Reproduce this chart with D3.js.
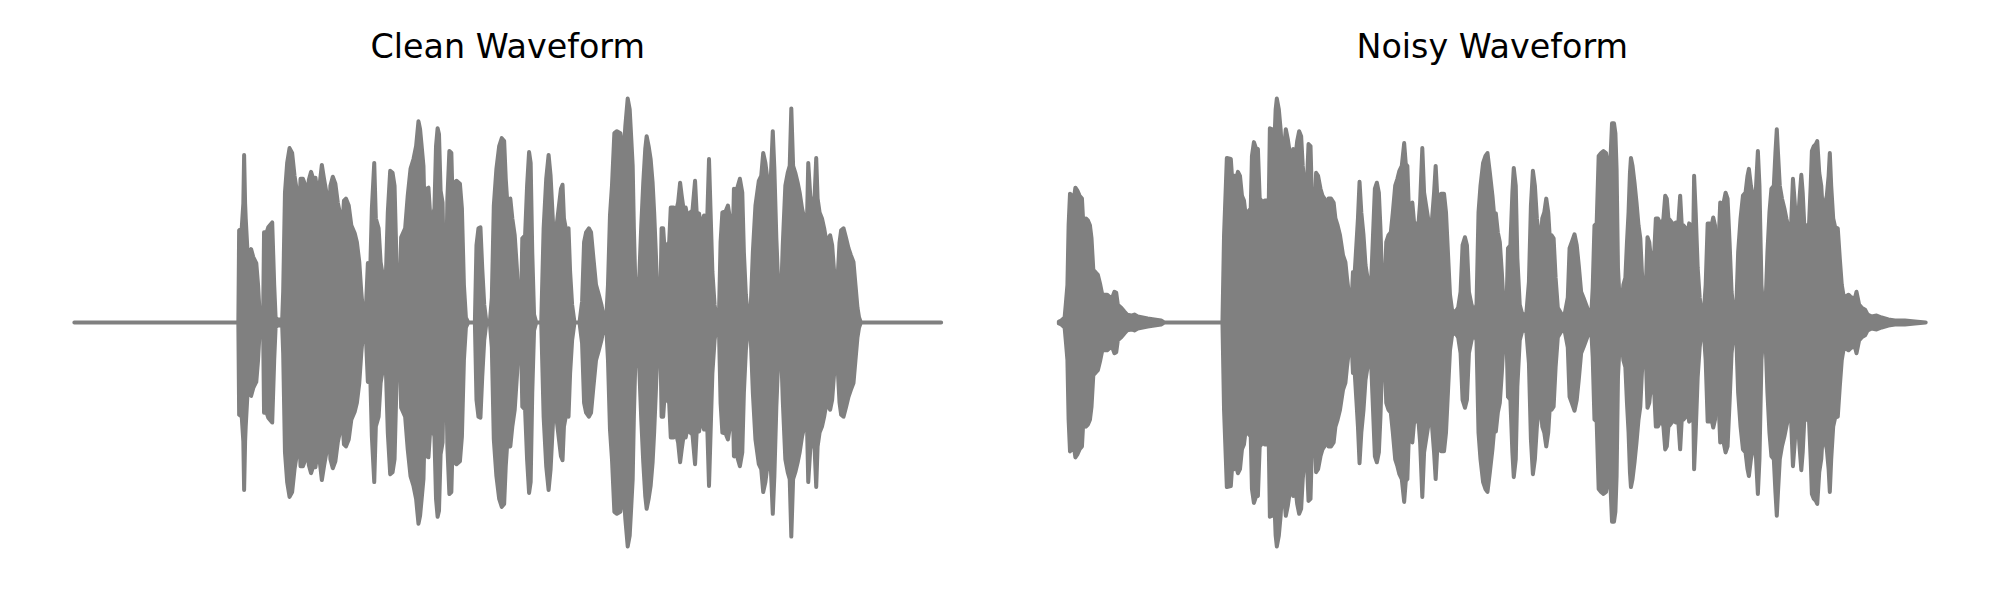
<!DOCTYPE html>
<html><head><meta charset="utf-8">
<script src="https://cdn.jsdelivr.net/npm/d3@7"></script>
<style>html,body{margin:0;padding:0;background:#fff;} svg{display:block}</style>
</head><body><svg id="chart" width="2000" height="600"></svg>
<script>
// ---- data ----
const titles = ["Clean Waveform", "Noisy Waveform"];
const durationMs = 4350;
// peak envelope of each waveform: [time (ms), peak amplitude (arb. units)]; waveform is symmetric about 0
const cleanEnvelope = [[0,0],[823,0],[827,93],[840,95],[848,120],[852,169],[857,120],[860,105],[870,68],[887,74],[898,66],[913,60],[922,38],[930,8],[940,0],[947,0],[952,91],[965,91],[973,96],[993,101],[1003,38],[1010,5],[1020,3],[1043,3],[1048,31],[1057,131],[1068,161],[1080,176],[1093,171],[1105,148],[1118,131],[1127,101],[1135,145],[1147,145],[1160,138],[1170,128],[1177,144],[1188,152],[1202,143],[1210,146],[1220,131],[1232,141],[1242,159],[1253,145],[1265,131],[1273,78],[1285,138],[1297,147],[1310,140],[1322,121],[1335,108],[1343,91],[1353,123],[1363,125],[1377,118],[1390,98],[1407,90],[1418,81],[1430,61],[1440,31],[1450,8],[1460,0],[1473,60],[1483,38],[1493,115],[1505,161],[1513,105],[1527,95],[1537,61],[1550,45],[1562,38],[1573,111],[1585,153],[1597,151],[1607,138],[1615,75],[1623,8],[1630,0],[1640,86],[1660,95],[1673,128],[1687,155],[1702,165],[1715,178],[1727,203],[1735,195],[1743,178],[1752,158],[1760,91],[1767,135],[1777,136],[1785,111],[1797,105],[1807,115],[1815,178],[1823,196],[1830,190],[1838,133],[1848,121],[1855,45],[1865,38],[1872,125],[1882,173],[1892,171],[1898,125],[1908,141],[1918,143],[1935,140],[1945,115],[1955,38],[1965,5],[1977,0],[2010,0],[2018,78],[2028,95],[2038,96],[2047,55],[2057,18],[2068,0],[2085,0],[2095,25],[2105,118],[2118,155],[2132,178],[2145,186],[2157,183],[2165,145],[2177,108],[2188,125],[2198,105],[2210,88],[2222,51],[2232,8],[2240,0],[2248,85],[2262,88],[2272,138],[2282,172],[2290,161],[2298,71],[2307,8],[2318,0],[2343,0],[2355,95],[2368,145],[2380,169],[2390,148],[2402,101],[2412,81],[2422,101],[2432,118],[2442,135],[2450,139],[2457,105],[2468,93],[2480,95],[2488,51],[2498,18],[2510,0],[2535,0],[2548,21],[2558,81],[2568,91],[2582,95],[2593,91],[2605,65],[2618,38],[2632,28],[2645,18],[2657,5],[2668,0],[2678,38],[2688,108],[2698,138],[2710,191],[2723,193],[2740,191],[2748,178],[2757,173],[2765,198],[2777,226],[2787,215],[2795,185],[2802,158],[2808,95],[2818,18],[2825,38],[2835,46],[2845,98],[2855,141],[2865,175],[2872,188],[2882,178],[2892,165],[2902,141],[2910,110],[2918,71],[2927,25],[2933,3],[2940,8],[2947,95],[2955,95],[2963,71],[2973,78],[2985,81],[2993,116],[3007,116],[3018,111],[3030,121],[3040,141],[3048,128],[3057,115],[3068,116],[3077,106],[3090,111],[3102,113],[3115,143],[3123,111],[3135,110],[3147,95],[3160,108],[3168,78],[3177,111],[3185,165],[3193,111],[3202,51],[3213,18],[3223,3],[3235,8],[3243,81],[3252,111],[3268,112],[3280,118],[3290,105],[3300,41],[3310,135],[3320,131],[3330,138],[3340,145],[3352,131],[3360,71],[3370,28],[3382,3],[3393,8],[3405,71],[3418,118],[3435,143],[3447,148],[3457,171],[3468,161],[3478,145],[3488,108],[3497,155],[3505,193],[3513,155],[3523,85],[3535,25],[3543,3],[3555,78],[3568,138],[3580,151],[3590,158],[3598,216],[3607,158],[3618,151],[3630,141],[3640,131],[3652,115],[3663,105],[3672,51],[3678,115],[3683,161],[3690,138],[3698,111],[3707,118],[3715,128],[3723,166],[3730,125],[3740,111],[3752,105],[3763,95],[3773,83],[3785,85],[3793,88],[3803,78],[3813,51],[3823,31],[3832,51],[3840,81],[3848,93],[3860,95],[3873,85],[3885,75],[3897,68],[3910,61],[3920,38],[3930,15],[3938,5],[3947,0],[4350,0]];
const noisyEnvelope = [[0,1],[12,2],[29,5],[36,21],[43,38],[49,98],[56,130],[66,128],[74,123],[83,136],[93,133],[104,128],[116,125],[124,95],[129,88],[136,105],[146,103],[156,98],[164,85],[173,53],[183,51],[196,48],[208,38],[218,28],[229,28],[243,28],[254,26],[268,25],[279,31],[288,30],[296,18],[313,15],[329,11],[343,8],[363,7],[379,8],[396,6],[421,5],[446,4],[479,3],[513,2],[529,0],[821,0],[829,88],[838,138],[843,166],[863,165],[871,141],[879,148],[889,145],[899,152],[909,148],[919,128],[929,123],[938,108],[954,113],[963,115],[969,168],[979,182],[989,176],[999,175],[1008,125],[1016,123],[1024,111],[1033,123],[1043,123],[1053,115],[1059,196],[1071,195],[1079,168],[1088,215],[1094,226],[1104,215],[1113,195],[1123,161],[1129,173],[1139,195],[1149,185],[1159,171],[1166,150],[1176,175],[1186,165],[1196,183],[1206,193],[1216,188],[1224,158],[1233,136],[1243,131],[1253,180],[1263,178],[1273,105],[1283,95],[1291,151],[1301,148],[1313,135],[1323,128],[1333,125],[1343,98],[1353,125],[1366,125],[1379,121],[1388,105],[1399,98],[1411,88],[1426,68],[1438,61],[1446,45],[1458,25],[1468,16],[1476,51],[1484,48],[1493,78],[1501,105],[1509,142],[1518,111],[1529,88],[1539,58],[1549,45],[1559,31],[1568,45],[1576,85],[1586,135],[1596,141],[1606,131],[1614,95],[1623,38],[1633,16],[1643,81],[1654,88],[1666,91],[1676,111],[1688,138],[1699,145],[1709,153],[1721,158],[1733,181],[1741,160],[1749,158],[1758,105],[1766,85],[1774,121],[1783,100],[1793,100],[1803,95],[1813,121],[1824,176],[1833,131],[1843,118],[1853,105],[1863,45],[1873,105],[1883,131],[1891,158],[1899,128],[1908,113],[1918,130],[1933,130],[1943,111],[1954,65],[1963,28],[1973,13],[1988,10],[2004,15],[2016,31],[2026,78],[2038,86],[2048,78],[2058,31],[2071,18],[2083,10],[2096,18],[2106,111],[2116,138],[2129,161],[2141,168],[2151,171],[2163,151],[2176,128],[2186,105],[2193,110],[2203,91],[2213,81],[2223,51],[2233,15],[2246,11],[2254,75],[2266,78],[2276,131],[2283,156],[2293,138],[2301,65],[2313,18],[2326,8],[2346,9],[2359,41],[2369,118],[2379,153],[2389,138],[2399,105],[2409,88],[2418,81],[2426,105],[2436,111],[2446,125],[2456,111],[2463,88],[2473,88],[2483,85],[2493,45],[2504,15],[2521,9],[2538,8],[2554,25],[2563,75],[2574,81],[2588,89],[2599,78],[2609,58],[2621,31],[2633,25],[2646,18],[2659,11],[2671,5],[2679,35],[2688,98],[2699,100],[2709,168],[2721,171],[2733,173],[2746,171],[2756,158],[2766,155],[2776,201],[2786,201],[2793,191],[2799,155],[2806,55],[2816,15],[2824,18],[2833,38],[2843,45],[2851,81],[2859,111],[2866,151],[2871,166],[2879,158],[2889,141],[2899,121],[2909,98],[2918,85],[2926,51],[2936,18],[2946,38],[2954,86],[2963,81],[2971,65],[2979,70],[2988,71],[2996,105],[3006,105],[3016,101],[3026,98],[3034,105],[3043,128],[3051,125],[3059,105],[3068,103],[3076,101],[3084,98],[3096,101],[3109,101],[3118,128],[3126,98],[3134,98],[3146,95],[3154,85],[3163,100],[3174,98],[3183,78],[3188,148],[3196,111],[3206,55],[3216,25],[3226,8],[3236,8],[3246,38],[3256,100],[3266,100],[3276,98],[3284,106],[3293,98],[3301,38],[3309,71],[3319,121],[3328,78],[3336,121],[3346,131],[3356,125],[3366,81],[3376,31],[3388,8],[3399,11],[3409,71],[3421,105],[3433,128],[3446,131],[3456,148],[3463,155],[3473,138],[3483,128],[3491,98],[3499,138],[3508,173],[3516,138],[3526,38],[3538,5],[3546,15],[3556,71],[3566,111],[3576,135],[3588,138],[3596,171],[3603,195],[3609,171],[3618,138],[3629,125],[3641,115],[3651,105],[3659,98],[3669,38],[3676,105],[3684,145],[3693,121],[3701,95],[3709,101],[3718,128],[3726,149],[3733,131],[3741,98],[3751,98],[3763,91],[3773,138],[3779,173],[3789,178],[3799,180],[3806,183],[3816,151],[3826,138],[3838,98],[3846,121],[3854,128],[3863,148],[3869,171],[3876,138],[3886,105],[3896,96],[3909,95],[3919,65],[3929,38],[3939,26],[3949,26],[3963,28],[3973,26],[3983,25],[3993,23],[4003,31],[4009,25],[4016,18],[4029,15],[4046,13],[4059,8],[4079,6],[4104,7],[4129,5],[4163,3],[4196,2],[4246,2],[4296,1],[4350,0]];

// ---- layout ----
const W = 2000, H = 600;
const margin = 31, gap = 31;
const axW = (W - 2 * margin - gap) / 2;
const axTop = 76.1, axBottom = 568.9;
const color = "#808080";

const svg = d3.select("#chart");
const panels = [
  { title: titles[0], data: cleanEnvelope, left: margin },
  { title: titles[1], data: noisyEnvelope, left: margin + axW + gap }
];

panels.forEach(p => {
  const x = d3.scaleLinear()
    .domain([-0.05 * durationMs, 1.05 * durationMs])
    .range([p.left, p.left + axW]);
  const maxA = d3.max(p.data, d => d[1]);
  const y = d3.scaleLinear()
    .domain([-1.1 * maxA, 1.1 * maxA])
    .range([axBottom, axTop]);
  const area = d3.area()
    .x(d => x(d[0]))
    .y0(d => y(-d[1]))
    .y1(d => y(d[1]));
  const g = svg.append("g");
  g.append("path")
    .attr("d", area(p.data))
    .attr("fill", color)
    .attr("stroke", color)
    .attr("stroke-width", 4)
    .attr("stroke-linejoin", "round");
  g.append("text")
    .attr("x", p.left + axW / 2)
    .attr("y", axTop - 18)
    .attr("text-anchor", "middle")
    .attr("font-family", "DejaVu Sans")
    .attr("font-size", 33.33)
    .attr("fill", "#000")
    .text(p.title);
});
</script>
</body></html>
